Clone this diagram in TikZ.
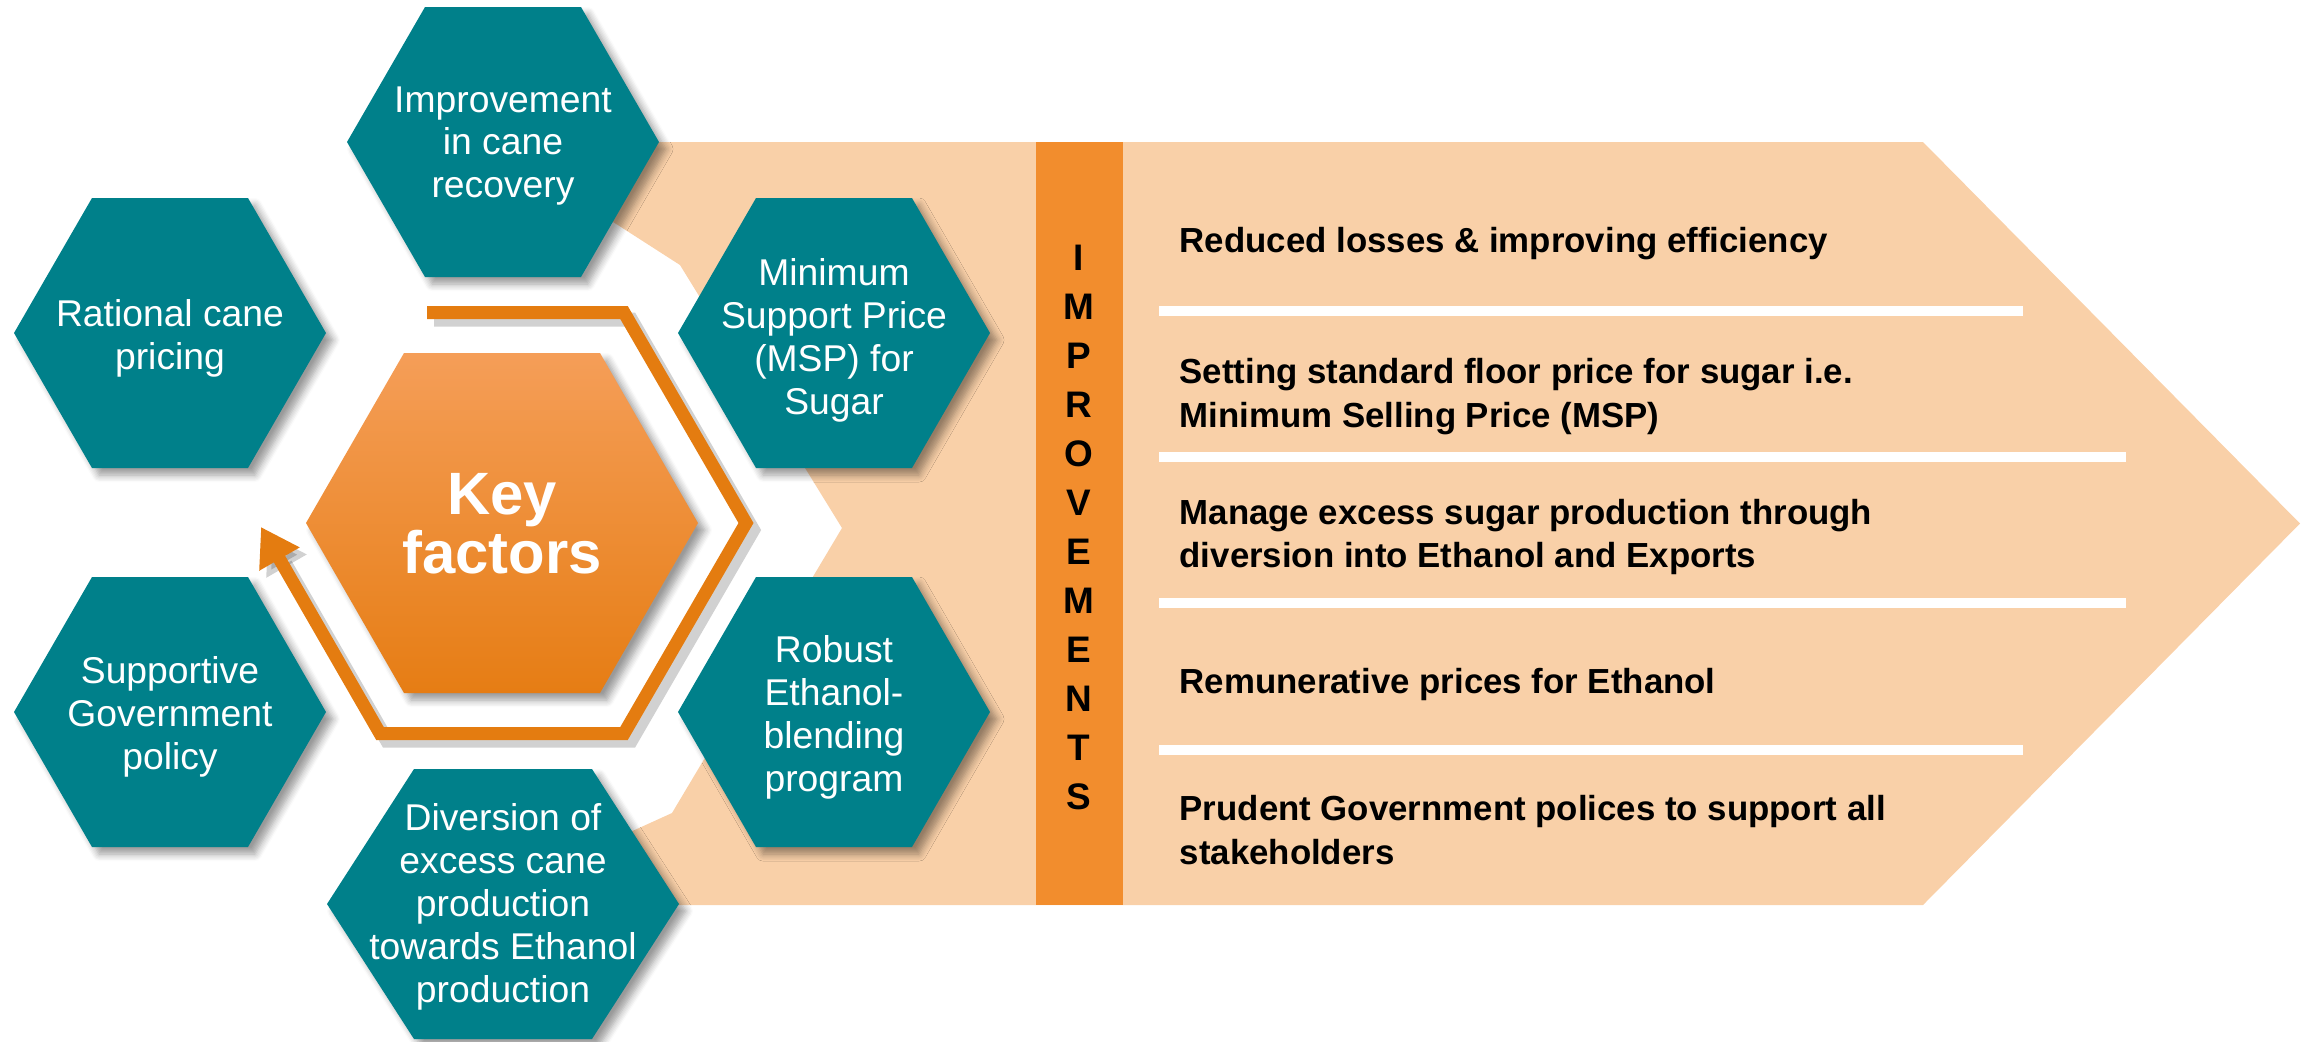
\documentclass[tikz,border=0pt]{standalone}
\usepackage{fontspec}
\setmainfont{Liberation Sans}
\usetikzlibrary{arrows.meta,shadows.blur}

\definecolor{hexteal}{RGB}{0,128,138}
\definecolor{peach}{RGB}{249,208,168}
\definecolor{barorange}{RGB}{242,141,45}
\definecolor{frameorange}{RGB}{228,124,16}
\definecolor{keytop}{RGB}{245,158,88}
\definecolor{keymid}{RGB}{248,144,32}
\definecolor{keybot}{RGB}{230,125,20}

\tikzset{
  hexshadow/.style={blur shadow={shadow xshift=2pt,shadow yshift=-2pt,shadow blur steps=6,shadow blur radius=2pt,shadow opacity=40}},
  hexfill/.style={fill=hexteal,hexshadow},
  hextext/.style={text=white,align=center,font=\fontsize{10.6}{12.2}\selectfont},
  keytext/.style={text=white,align=center,font=\fontsize{17}{15.6}\selectfont\bfseries},
  itemtext/.style={anchor=west,align=left,inner xsep=0pt,font=\fontsize{9.9}{12.5}\selectfont\bfseries},
  letter/.style={font=\fontsize{10.5}{12}\selectfont\bfseries},
  sepline/.style={white,line width=0.1cm}
}

% hexagon: centre x, centre y, half width, half top edge (half height 135)
\newcommand{\hexagon}[4]{%
  \fill[hexfill] (#1-#3,#2) -- (#1-#4,#2-135) -- (#1+#4,#2-135) -- (#1+#3,#2)
    -- (#1+#4,#2+135) -- (#1-#4,#2+135) -- cycle;}

\begin{document}
\begin{tikzpicture}[x=0.01cm,y=-0.01cm]
\path[use as bounding box] (0,0) rectangle (2311,1041);
% big arrow with the improvements
\fill[peach] (560,142) -- (1923,142) -- (2300,523.5) -- (1923,905) -- (560,905)
  -- (628,833) -- (672,813) -- (842,528) -- (680,265) -- (610,220) -- cycle;
\fill[barorange] (1036,142) rectangle (1123,905);
\foreach \ch [count=\i from 0] in {I,M,P,R,O,V,E,M,E,N,T,S}
  \node[letter] (imp\i) at (1079,258+49*\i) {\ch};
\draw[sepline] (1159,311) -- (2023,311);
\draw[sepline] (1159,457) -- (2126,457);
\draw[sepline] (1159,603) -- (2126,603);
\draw[sepline] (1159,750) -- (2023,750);
\node[itemtext] (item1) at (1179,244) {Reduced losses \& improving efficiency};
\node[itemtext] (item2) at (1179,397) {Setting standard floor price for sugar i.e.\\Minimum Selling Price (MSP)};
\node[itemtext] (item3) at (1179,537) {Manage excess sugar production through\\diversion into Ethanol and Exports};
\node[itemtext] (item4) at (1179,684) {Remunerative prices for Ethanol};
\node[itemtext] (item5) at (1179,830) {Prudent Government polices to support all\\stakeholders};
% cycle arrow round the key factors
\begin{scope}[xshift=2pt,yshift=-2pt]
\draw[black,opacity=0.18,line width=0.14cm,-{Triangle[length=0.37cm,width=0.44cm]}]
  (427,312.5) -- (624,312.5) -- (746,523) -- (624,733.5) -- (380,733.5) -- (261,527);
\end{scope}
\draw[frameorange,line width=0.13cm,-{Triangle[length=0.37cm,width=0.44cm]}]
  (427,312.5) -- (624,312.5) -- (746,523) -- (624,733.5) -- (380,733.5) -- (261,527);
\shade[top color=keytop,middle color=keymid,bottom color=keybot,hexshadow]
  (306,523) -- (404,353) -- (600,353) -- (698,523) -- (600,693) -- (404,693) -- cycle;
\node[keytext] (key) at (502,524) {Key\\factors};
% the six factors
\hexagon{503}{142}{156}{78}
\hexagon{170}{333}{156}{78}
\hexagon{834}{333}{156}{78}
\hexagon{170}{712}{156}{78}
\hexagon{834}{712}{156}{78}
\hexagon{503}{904}{176}{89}
\node[hextext] (recovery) at (503,146) {Improvement\\in cane\\recovery};
\node[hextext] (rational) at (170,338) {Rational cane\\pricing};
\node[hextext] (msp) at (834,340) {Minimum\\Support Price\\(MSP) for\\Sugar};
\node[hextext] (policy) at (170,717) {Supportive\\Government\\policy};
\node[hextext] (robust) at (834,717) {Robust\\Ethanol-\\blending\\program};
\node[hextext] (diversion) at (503,907) {Diversion of\\excess cane\\production\\towards Ethanol\\production};
\end{tikzpicture}
\end{document}
